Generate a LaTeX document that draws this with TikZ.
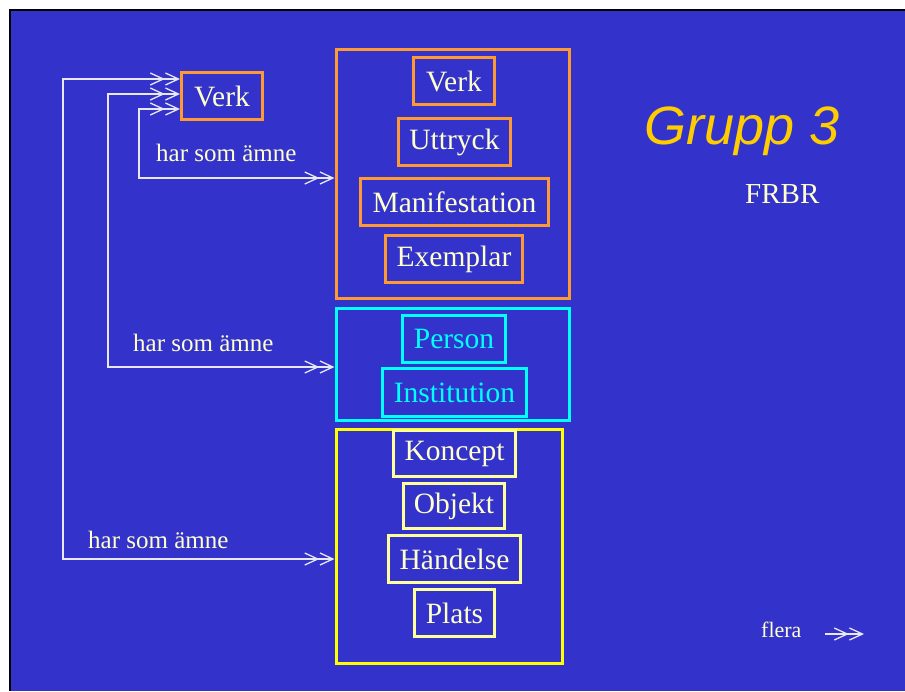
\documentclass[tikz,border=0pt]{standalone}
\usepackage{fontspec}
\setmainfont{Liberation Serif}
\newfontfamily\arialfont{Liberation Sans}
\usepackage{tikz}
\usetikzlibrary{arrows.meta, positioning, fit}
\definecolor{slideblue}{HTML}{3333CC}
\definecolor{frbrorange}{HTML}{FF9933}
\definecolor{frbrcyan}{HTML}{00FFFF}
\definecolor{frbryellow}{HTML}{FFFF00}
\definecolor{paleyellow}{HTML}{FFFF99}
\definecolor{creamtext}{HTML}{FFFFCC}
\definecolor{grupgold}{HTML}{FFCC00}
\definecolor{linkwhite}{HTML}{E8E8F4}

\begin{document}
\begin{tikzpicture}[
    x=1pt, y=-1pt,
    dbl/.tip={Straight Barb[length=13pt,width=12pt,line width=1.3pt] Straight Barb[length=13pt,width=12pt,line width=1.3pt]},
    entity/.style={rectangle, draw=#1, line width=3pt, inner sep=0pt, minimum height=47pt, font=\fontsize{29.5}{32}\selectfont},
    group/.style={rectangle, draw=#1, line width=3pt, inner sep=0pt},
    link/.style={dbl-dbl, draw=linkwhite, line width=1.2pt},
    label/.style={anchor=base west, text=creamtext, inner sep=0pt, font=\fontsize{25}{28}\selectfont}
]
\useasboundingbox (0,0) rectangle (905,691);
\fill[white] (0,0) rectangle (905,691);
\fill[slideblue] (10,10) rectangle (905,691);
\draw[black, line width=2pt] (10,691) -- (10,10) -- (905,10);

% group boxes
\node[group=frbrorange, fit={(336,49) (569,298)}] (werkgrp) {};
\node[group=frbrcyan, fit={(336,308) (569,420)}] (persgrp) {};
\node[group=frbryellow, fit={(336,429) (562,663)}] (sakgrp) {};

% group 1
\node[entity=frbrorange, text=creamtext, minimum width=81pt] (verk) at (454,81) {Verk};
\node[entity=frbrorange, text=creamtext, minimum width=112pt] (uttryck) at (454.5,142) {Uttryck};
\node[entity=frbrorange, text=creamtext, minimum width=188pt] (manif) at (454.5,202) {Manifestation};
\node[entity=frbrorange, text=creamtext, minimum width=137pt] (exemplar) at (454,259) {Exemplar};

% group 2
\node[entity=frbrcyan, text=frbrcyan, minimum width=103pt] (person) at (454,339) {Person};
\node[entity=frbrcyan, text=frbrcyan, minimum width=144pt, minimum height=48pt] (instit) at (454.5,392.5) {Institution};

% group 3
\node[entity=paleyellow, text=creamtext, minimum width=122pt, minimum height=46pt] (koncept) at (454.5,453.5) {Koncept};
\node[entity=paleyellow, text=creamtext, minimum width=101pt, minimum height=45pt] (objekt) at (454,506) {Objekt};
\node[entity=paleyellow, text=creamtext, minimum width=132pt] (handelse) at (454.5,559) {Händelse};
\node[entity=paleyellow, text=creamtext, minimum width=80pt] (plats) at (454.5,613) {Plats};

% subject work
\node[entity=frbrorange, text=creamtext, minimum width=81pt] (amnesverk) at (222,96) {Verk};

% har som ämne
\draw[link] (amnesverk.west |- 0,109) -- (139,109) |- (werkgrp.west |- 0,178);
\draw[link] (amnesverk.west |- 0,94) -- (108,94) |- (persgrp.west |- 0,367);
\draw[link] (amnesverk.west |- 0,79) -- (63,79) |- (sakgrp.west |- 0,559);

\node[label] (lbla) at (156,161) {har som ämne};
\node[label] (lblb) at (133,351) {har som ämne};
\node[label] (lblc) at (88,548) {har som ämne};

% title
\node[anchor=base west, inner sep=0pt, text=grupgold, font=\arialfont\itshape\fontsize{54}{58}\selectfont] (grupp) at (644,144) {Grupp 3};
\node[anchor=base west, inner sep=0pt, text=creamtext, font=\fontsize{29}{32}\selectfont] (frbr) at (745,203) {FRBR};

% legend
\node[anchor=base west, inner sep=0pt, text=creamtext, font=\fontsize{22}{24}\selectfont] (flera) at (761,637) {flera};
\coordinate (flstart) at (825,634);
\coordinate (flend) at (864,634);
\draw[-dbl, draw=linkwhite, line width=1.2pt] (flstart) -- (flend);

\end{tikzpicture}
\end{document}
